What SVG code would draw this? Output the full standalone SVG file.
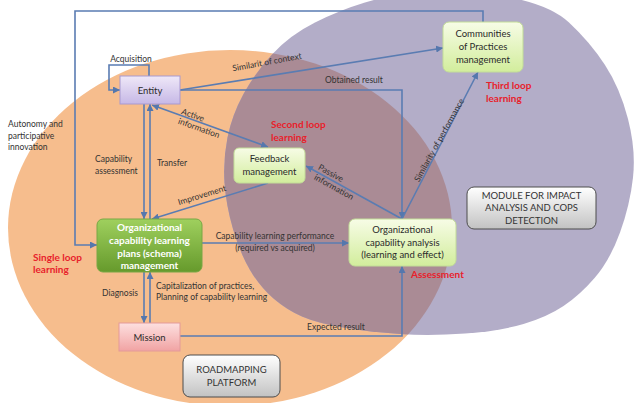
<svg xmlns="http://www.w3.org/2000/svg" width="635" height="403" viewBox="0 0 635 403">
<defs>
<linearGradient id="gEnt" x1="0" y1="0" x2="0" y2="1"><stop offset="0" stop-color="#efe8f8"/><stop offset="1" stop-color="#c6b8e6"/></linearGradient>
<linearGradient id="gPlan" x1="0" y1="0" x2="0" y2="1"><stop offset="0" stop-color="#9fd05e"/><stop offset="1" stop-color="#669a2c"/></linearGradient>
<linearGradient id="gMis" x1="0" y1="0" x2="0" y2="1"><stop offset="0" stop-color="#fde0e0"/><stop offset="1" stop-color="#f1a3a3"/></linearGradient>
<linearGradient id="gLite" x1="0" y1="0" x2="0" y2="1"><stop offset="0" stop-color="#f7fce6"/><stop offset="1" stop-color="#d2ed9c"/></linearGradient>
<linearGradient id="gGray" x1="0" y1="0" x2="0" y2="1"><stop offset="0" stop-color="#ffffff"/><stop offset="1" stop-color="#c2c2c2"/></linearGradient>
<clipPath id="orangeClip"><ellipse cx="230" cy="228" rx="222" ry="178"/></clipPath>
<path id="purpleShape" d="M499,-4.5 Q548,3 569,22.5 Q590,42 605,65 Q620,88 628,119 Q636,150 633,177.5 Q630,205 620,232.5 Q610,260 595,277.5 Q580,295 563.5,306 Q547,317 523.5,324 Q500,331 465,333.5 Q430,336 400,334 Q370,332 343.5,327.5 Q317,323 302,316.5 Q287,310 273.5,298.5 Q260,287 250,270 Q240,253 233,229 Q226,205 224.5,182.5 Q223,160 227.5,137.5 Q232,115 243.5,94 Q255,73 272.5,54 Q290,35 315,22.5 Q340,10 365,2.5 Q390,-5 420,-8.5 Q450,-12 499,-4.5 Z"/>
<marker id="ah" viewBox="0 0 10 10" refX="10" refY="5" markerWidth="7" markerHeight="7" markerUnits="userSpaceOnUse" orient="auto-start-reverse"><path d="M0,0 L10,5 L0,10 z" fill="#5577ad"/></marker>
</defs>
<style>
.con{fill:none;stroke:#5a7cb2;stroke-width:1.6}
.lbl{font-family:Lato,"Open Sans",sans-serif;font-size:8.5px;fill:#333}
.red{font-family:Lato,"Open Sans",sans-serif;font-size:10px;font-weight:bold;fill:#e8212b}
.nt{font-family:Lato,"Open Sans",sans-serif;font-size:9.5px;fill:#2a2a2a;text-anchor:middle}
.wt{font-family:Lato,"Open Sans",sans-serif;font-size:10px;font-weight:bold;fill:#ffffff;text-anchor:middle}
.gt{font-family:Lato,"Open Sans",sans-serif;font-size:9.5px;fill:#333;text-anchor:middle}
</style>
<rect width="635" height="403" fill="#ffffff"/>
<g id="background">
<ellipse cx="230" cy="228" rx="222" ry="178" fill="#f6bd8d"/>
<use href="#purpleShape" fill="#b3adc8"/>
<use href="#purpleShape" fill="#aa8b95" clip-path="url(#orangeClip)"/>
</g>
<g id="connectors">
<path class="con" d="M149,76 V65 H109 V90 H120" marker-end="url(#ah)"/>
<path class="con" d="M483,22 V11 H75 V245 H97" marker-end="url(#ah)"/>
<path class="con" d="M180,90 L443,48" marker-end="url(#ah)"/>
<path class="con" d="M180,90 H402 V219" marker-end="url(#ah)"/>
<path class="con" d="M152,105 L268,147" marker-start="url(#ah)" marker-end="url(#ah)"/>
<path class="con" d="M144,104 V219" marker-end="url(#ah)"/>
<path class="con" d="M150,219 V104" marker-end="url(#ah)"/>
<path class="con" d="M268,183 L152,219" marker-end="url(#ah)"/>
<path class="con" d="M202,243 H349" marker-end="url(#ah)"/>
<path class="con" d="M144,272 V323" marker-end="url(#ah)"/>
<path class="con" d="M150,323 V272" marker-end="url(#ah)"/>
<path class="con" d="M180,336 H402 V266" marker-end="url(#ah)"/>
<path class="con" d="M402,219 L306,166" marker-end="url(#ah)"/>
<path class="con" d="M402,219 L478,72" marker-end="url(#ah)"/>
</g>
<g id="labels">
<text class="lbl" x="131" y="62" text-anchor="middle" font-size="9">Acquisition</text>
<text class="lbl" x="267" y="65" text-anchor="middle" transform="rotate(-10.5 267 62)">Similarit of context</text>
<text class="lbl" x="354" y="83" text-anchor="middle">Obtained result</text>
<text class="lbl" x="193" y="118" text-anchor="middle" transform="rotate(20 193 115)">Active</text>
<text class="lbl" x="199" y="131" text-anchor="middle" transform="rotate(20 199 128)">information</text>
<text class="lbl" x="8" y="127">Autonomy and</text>
<text class="lbl" x="8" y="139">participative</text>
<text class="lbl" x="8" y="150">innovation</text>
<text class="lbl" x="95" y="162">Capability</text>
<text class="lbl" x="95" y="174" font-size="7.5">assessment</text>
<text class="lbl" x="157" y="166">Transfer</text>
<text class="lbl" x="202" y="198" text-anchor="middle" transform="rotate(-17 202 195)">Improvement</text>
<text class="lbl" x="275" y="239" text-anchor="middle">Capability learning performance</text>
<text class="lbl" x="275" y="251" text-anchor="middle">(required vs acquired)</text>
<text class="lbl" x="102" y="296">Diagnosis</text>
<text class="lbl" x="156" y="289">Capitalization of practices,</text>
<text class="lbl" x="156" y="300">Planning of capability learning</text>
<text class="lbl" x="336" y="330" text-anchor="middle">Expected result</text>
<text class="lbl" x="331" y="176" text-anchor="middle" transform="rotate(29 331 173)">Passive</text>
<text class="lbl" x="334" y="190" text-anchor="middle" transform="rotate(29 334 187)">information</text>
<text class="lbl" x="439" y="143" text-anchor="middle" transform="rotate(-61 439 140)">Similarity of performance</text>
<text class="red" x="271" y="128">Second loop</text>
<text class="red" x="271" y="141">learning</text>
<text class="red" x="486" y="89">Third loop</text>
<text class="red" x="486" y="102">learning</text>
<text class="red" x="33" y="261">Single loop</text>
<text class="red" x="33" y="273">learning</text>
<text class="red" x="411" y="278">Assessment</text>
</g>
<g id="entity">
<rect x="120" y="76" width="60" height="28" fill="url(#gEnt)" stroke="#a899d0" stroke-width="1"/>
<text class="nt" x="150" y="94" font-size="11">Entity</text>
</g>
<g id="feedback">
<rect x="234" y="148" width="71" height="35" rx="5" fill="url(#gLite)" stroke="#c3dd98" stroke-width="1"/>
<text class="nt" x="269.5" y="162">Feedback</text>
<text class="nt" x="269.5" y="175">management</text>
</g>
<g id="cop">
<rect x="443" y="22" width="80" height="50" rx="6" fill="url(#gLite)" stroke="#c3dd98" stroke-width="1"/>
<text class="nt" x="483" y="37">Communities</text>
<text class="nt" x="483" y="50">of Practices</text>
<text class="nt" x="483" y="63">management</text>
</g>
<g id="plan">
<rect x="97" y="219" width="105" height="53" rx="6" fill="url(#gPlan)" stroke="#78a744" stroke-width="1"/>
<text class="wt" x="149.5" y="231">Organizational</text>
<text class="wt" x="149.5" y="244">capability learning</text>
<text class="wt" x="149.5" y="257">plans (schema)</text>
<text class="wt" x="149.5" y="269">management</text>
</g>
<g id="analysis">
<rect x="349" y="219" width="107" height="47" rx="6" fill="url(#gLite)" stroke="#c3dd98" stroke-width="1"/>
<text class="nt" x="402.5" y="233">Organizational</text>
<text class="nt" x="402.5" y="246">capability analysis</text>
<text class="nt" x="402.5" y="258">(learning and effect)</text>
</g>
<g id="mission">
<rect x="119" y="323" width="61" height="28" fill="url(#gMis)" stroke="#e39a9a" stroke-width="1"/>
<text class="nt" x="149.5" y="341" font-size="10.5">Mission</text>
</g>
<g id="roadmapping">
<rect x="183" y="355" width="97" height="42" rx="7" fill="url(#gGray)" stroke="#4d4d4d" stroke-width="1"/>
<text class="gt" x="231.5" y="373">ROADMAPPING</text>
<text class="gt" x="231.5" y="386">PLATFORM</text>
</g>
<g id="module">
<rect x="467" y="187" width="129" height="42" rx="7" fill="url(#gGray)" stroke="#4d4d4d" stroke-width="1"/>
<text class="gt" x="531.5" y="199" font-size="9">MODULE FOR IMPACT</text>
<text class="gt" x="531.5" y="211" font-size="9">ANALYSIS AND COPS</text>
<text class="gt" x="531.5" y="224" font-size="9">DETECTION</text>
</g>
</svg>
